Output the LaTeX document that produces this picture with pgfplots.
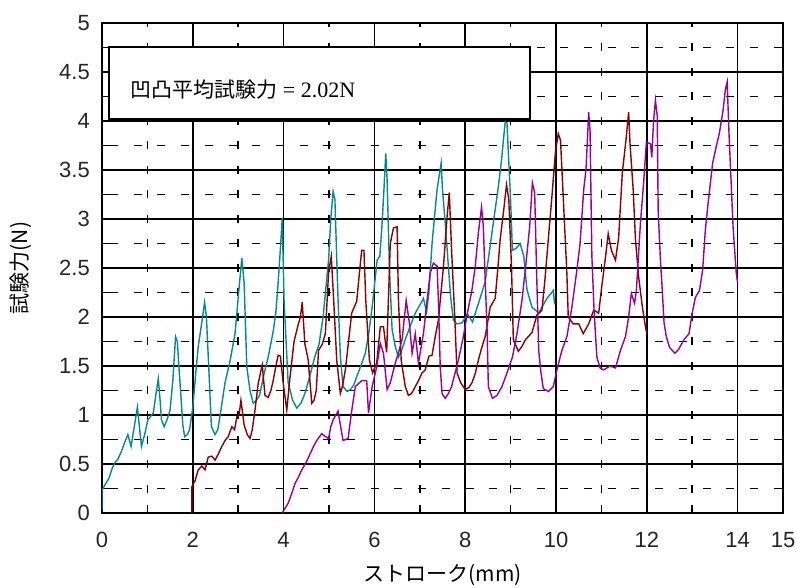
\documentclass[border=0pt]{standalone}
\usepackage{fontspec}
\usepackage{pgfplots}
\pgfplotsset{compat=1.18}
\usepackage{pgfplotstable}
\setmainfont{Liberation Sans}
\newfontfamily\cjk{Noto Sans CJK JP}
\newfontfamily\serif{Liberation Serif}

\definecolor{cteal}{RGB}{0,140,140}
\definecolor{cred}{RGB}{140,0,0}
\definecolor{cpurp}{RGB}{153,0,153}

% run starting at 0 mm
\pgfplotstableread{
x y
0 0.03
0.0 0.23
0.08 0.30
0.15 0.35
0.22 0.45
0.28 0.51
0.35 0.55
0.42 0.62
0.5 0.72
0.57 0.80
0.64 0.68
0.7 0.85
0.78 1.08
0.83 0.85
0.87 0.68
0.95 0.82
1.01 0.95
1.13 1.02
1.2 1.25
1.24 1.37
1.28 1.15
1.31 0.95
1.37 0.88
1.43 0.95
1.5 1.05
1.56 1.35
1.62 1.80
1.66 1.75
1.70 1.45
1.73 1.25
1.78 0.90
1.82 0.78
1.88 0.80
1.93 0.85
2.0 1.08
2.06 1.40
2.12 1.70
2.2 1.95
2.26 2.15
2.3 2.0
2.35 1.5
2.41 0.88
2.49 0.80
2.55 0.85
2.62 1.05
2.71 1.33
2.82 1.55
2.93 1.83
3.0 2.2
3.08 2.60
3.13 2.35
3.19 1.49
3.26 1.25
3.33 1.12
3.40 1.15
3.47 1.20
3.56 1.40
3.66 1.59
3.77 1.85
3.83 2.05
3.88 2.35
3.93 2.7
3.97 3.01
4.01 2.17
4.1 1.33
4.2 1.15
4.29 1.07
4.38 1.12
4.47 1.22
4.58 1.40
4.69 1.60
4.78 1.72
4.87 2.0
4.99 2.58
5.04 3.0
5.09 3.28
5.13 3.20
5.17 2.6
5.2 2.17
5.25 1.6
5.31 1.29
5.40 1.24
5.47 1.26
5.54 1.30
5.61 1.39
5.70 1.5
5.80 1.63
5.88 1.85
5.95 2.1
6.06 2.58
6.12 2.62
6.17 2.96
6.21 3.3
6.25 3.67
6.28 3.40
6.33 2.51
6.39 1.87
6.46 1.70
6.53 1.59
6.60 1.66
6.68 1.77
6.80 1.92
6.90 2.04
7.0 2.12
7.08 2.19
7.15 2.05
7.2 2.25
7.27 2.75
7.38 3.30
7.47 3.57
7.50 3.30
7.57 2.9
7.63 2.51
7.68 2.2
7.74 1.97
7.82 1.93
7.93 1.94
8.05 2.03
8.16 1.95
8.3 2.15
8.44 2.36
8.59 2.86
8.73 3.33
8.80 3.6
8.88 3.99
8.92 3.98
9.0 3.19
9.04 2.68
9.12 2.70
9.21 2.75
9.29 2.62
9.36 2.28
9.47 2.10
9.55 2.07
9.62 2.04
9.8 2.19
9.94 2.27
9.97 2.13
}\runA

% run starting at 2 mm
\pgfplotstableread{
x y
1.98 0.0
1.98 0.27
2.05 0.33
2.12 0.44
2.2 0.48
2.27 0.44
2.34 0.57
2.42 0.58
2.49 0.54
2.56 0.60
2.64 0.68
2.71 0.74
2.78 0.78
2.86 0.88
2.92 0.85
2.97 0.98
3.02 1.0
3.06 1.15
3.13 0.90
3.2 0.80
3.26 0.76
3.31 0.85
3.37 1.05
3.44 1.32
3.5 1.45
3.53 1.51
3.59 1.20
3.66 1.18
3.72 1.25
3.77 1.35
3.83 1.5
3.88 1.61
3.93 1.60
3.99 1.33
4.07 1.05
4.14 1.38
4.23 1.75
4.32 1.92
4.37 2.0
4.41 2.15
4.47 1.72
4.54 1.57
4.62 1.12
4.67 1.15
4.72 1.25
4.77 1.66
4.85 1.72
4.92 1.83
4.99 2.45
5.05 2.62
5.1 2.20
5.17 1.56
5.25 1.22
5.3 1.30
5.36 1.46
5.43 1.75
5.5 2.04
5.61 2.16
5.67 2.45
5.72 2.68
5.77 2.68
5.81 2.17
5.89 1.56
5.96 1.43
6.05 1.53
6.13 1.90
6.2 1.90
6.27 1.64
6.31 2.2
6.35 2.75
6.42 2.91
6.50 2.92
6.53 2.17
6.59 1.56
6.68 1.29
6.75 1.20
6.82 1.22
6.9 1.29
6.97 1.35
7.05 1.43
7.12 1.46
7.2 1.60
7.27 1.61
7.34 1.8
7.41 1.97
7.52 2.51
7.6 3.02
7.65 3.27
7.7 2.68
7.77 2.0
7.82 1.43
7.9 1.33
8.0 1.26
8.08 1.28
8.15 1.33
8.22 1.42
8.29 1.56
8.36 1.68
8.44 1.80
8.55 2.10
8.66 2.19
8.72 2.5
8.77 2.79
8.85 3.10
8.91 3.35
8.96 3.20
9.02 2.51
9.06 1.77
9.17 1.65
9.25 1.70
9.33 1.77
9.47 1.84
9.58 2.02
9.69 2.07
9.76 2.4
9.83 2.79
9.91 3.23
9.99 3.70
10.05 3.87
10.1 3.80
10.17 3.12
10.24 2.44
10.27 2.00
10.38 1.93
10.5 1.93
10.6 1.83
10.72 1.93
10.83 2.07
10.94 2.04
11.0 2.28
11.09 2.61
11.15 2.85
11.22 2.68
11.31 2.58
11.38 2.81
11.46 3.47
11.54 3.80
11.6 4.09
11.63 3.77
11.7 3.30
11.75 2.79
11.82 2.41
11.9 2.11
11.97 1.90
12.0 1.83
}\runB

% run starting at 4 mm
\pgfplotstableread{
x y
3.97 0.0
4.1 0.10
4.18 0.2
4.25 0.30
4.32 0.36
4.4 0.44
4.5 0.52
4.59 0.61
4.66 0.68
4.73 0.74
4.84 0.81
4.92 0.78
4.99 0.76
5.04 0.88
5.09 0.95
5.2 1.04
5.25 0.9
5.31 0.74
5.42 0.76
5.5 1.04
5.58 1.29
5.65 1.32
5.72 1.35
5.83 1.35
5.87 1.02
5.95 1.29
6.05 1.49
6.13 1.73
6.2 1.63
6.28 1.26
6.35 1.33
6.46 1.53
6.54 1.65
6.61 1.77
6.7 2.17
6.77 1.94
6.83 1.63
6.9 1.83
6.97 1.53
7.08 1.83
7.16 2.17
7.23 2.45
7.3 2.55
7.38 2.52
7.41 2.17
7.45 1.49
7.49 1.22
7.56 1.17
7.63 1.22
7.7 1.29
7.85 1.56
7.96 1.80
8.04 2.02
8.15 2.28
8.22 2.51
8.29 2.86
8.36 3.12
8.40 2.92
8.44 2.38
8.48 1.90
8.51 1.29
8.6 1.17
8.7 1.20
8.81 1.29
8.92 1.43
9.04 1.59
9.14 1.83
9.25 2.17
9.33 2.51
9.42 2.92
9.48 3.37
9.53 3.27
9.58 2.33
9.62 1.65
9.67 1.43
9.72 1.27
9.83 1.24
9.94 1.29
10.02 1.46
10.13 1.66
10.24 1.80
10.35 2.10
10.46 2.48
10.53 2.75
10.61 3.30
10.66 3.50
10.72 4.09
10.75 3.90
10.79 2.62
10.84 2.05
10.9 1.59
10.97 1.48
11.05 1.46
11.19 1.50
11.31 1.48
11.42 1.66
11.53 1.80
11.6 2.00
11.66 2.24
11.73 2.14
11.77 2.27
11.86 2.96
11.93 3.37
11.99 3.78
12.08 3.77
12.11 3.63
12.15 4.01
12.19 4.21
12.23 4.05
12.25 3.09
12.3 2.58
12.34 2.28
12.38 1.94
12.43 1.80
12.5 1.69
12.62 1.63
12.7 1.67
12.82 1.77
12.93 1.83
13.0 2.04
13.07 2.20
13.16 2.27
13.23 2.48
13.29 2.89
13.35 3.16
13.45 3.57
13.53 3.74
13.6 3.88
13.68 4.11
13.73 4.32
13.77 4.40
13.81 3.88
13.9 2.92
13.94 2.65
13.97 2.45
14.0 2.35
}\runC

\begin{document}
\begin{tikzpicture}
\path[use as bounding box] (-102bp,-75bp) rectangle (695bp,513bp);
\begin{axis}[
  at={(0,0)}, anchor=south west,
  scale only axis, width=681bp, height=490bp,
  xmin=0, xmax=15, ymin=0, ymax=5,
  xtick={0,2,4,6,8,10,12,14,15},
  minor xtick={1,3,5,7,9,11,13},
  ytick={0,0.5,1,1.5,2,2.5,3,3.5,4,4.5,5},
  minor ytick={0.25,0.75,1.25,1.75,2.25,2.75,3.25,3.75,4.25,4.75},
  axis line style={black, line width=1.6bp},
  tick style={black, line width=1.5bp},
  major tick length=0bp, minor tick length=8bp,
  tick align=inside,
  xtick pos=left, ytick pos=left,
  /pgf/number format/assume math mode=true,
  tick label style={font=\fontsize{22bp}{24bp}\selectfont, color=black!85},
  yticklabel style={inner sep=0pt, anchor=east, xshift=-12bp},
  xticklabel style={inner sep=0pt, anchor=north, yshift=-19bp},
  xlabel={\cjk ストローク(mm)},
  ylabel={\cjk 試験力(N)},
  every axis x label/.style={at={(axis description cs:0.5,-0.1265)}, anchor=center,
    font=\fontsize{21bp}{24bp}\selectfont},
  every axis y label/.style={at={(axis description cs:-0.119,0.5)}, anchor=center, rotate=90,
    font=\fontsize{21bp}{24bp}\selectfont},
]
% grid: solid at even mm and every 0.5 N, dashed in between
\pgfplotsinvokeforeach{2,4,6,8,10,12,14}{
  \draw[black, line width=1.6bp] (axis cs:#1,0) -- (axis cs:#1,5);
}
\pgfplotsinvokeforeach{0.5,1,1.5,2,2.5,3,3.5,4,4.5}{
  \draw[black, line width=1.6bp] (axis cs:0,#1) -- (axis cs:15,#1);
}
\pgfplotsinvokeforeach{1,3,5,7,9,11,13}{
  \draw[black, line width=1.5bp, dash pattern=on 8bp off 16.5bp, dash phase=4bp]
    (axis cs:#1,0) -- (axis cs:#1,5);
}
\pgfplotsinvokeforeach{0.25,0.75,1.25,1.75,2.25,2.75,3.25,3.75,4.25,4.75}{
  \draw[black, line width=1.5bp, dash pattern=on 8bp off 15.7bp, dash phase=15.7bp]
    (axis cs:0,#1) -- (axis cs:15,#1);
}
\addplot[cteal, line width=1.4bp] table[x=x,y=y] {\runA};
\addplot[cred, line width=1.4bp] table[x=x,y=y] {\runB};
\addplot[cpurp, line width=1.4bp] table[x=x,y=y] {\runC};
\draw[black, line width=1.4bp, fill=white] (axis cs:0.15,4.02) rectangle (axis cs:9.43,4.755);
\node[anchor=west, inner sep=0pt] at (axis cs:0.62,4.32)
  {{\cjk\fontsize{21bp}{24bp}\selectfont 凹凸平均試験力}{\serif\fontsize{22bp}{24bp}\selectfont\ = 2.02N}};
\end{axis}
\end{tikzpicture}
\end{document}
